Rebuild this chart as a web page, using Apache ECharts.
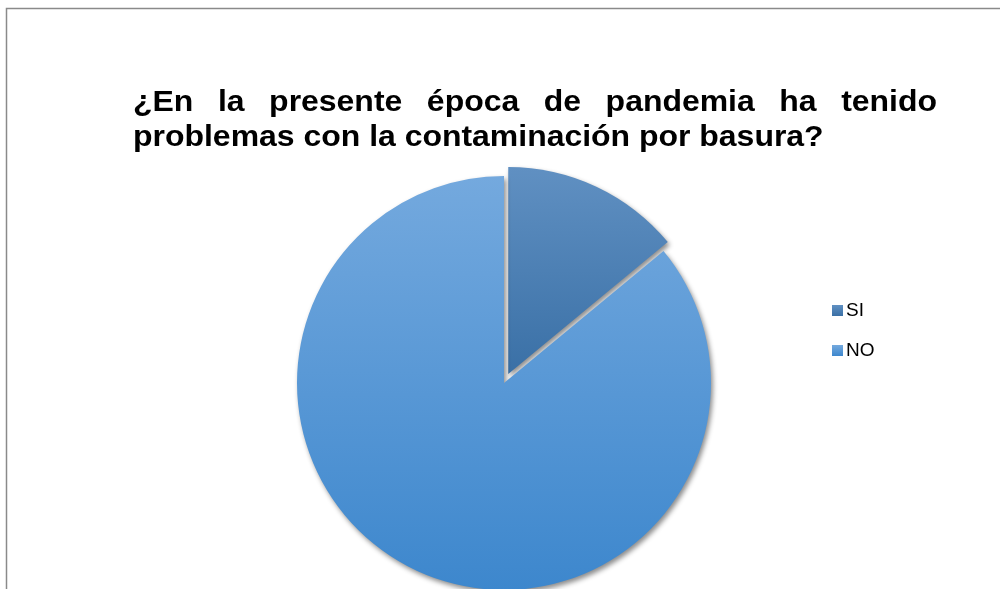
<!DOCTYPE html>
<html>
<head>
<meta charset="utf-8">
<script src="https://cdn.jsdelivr.net/npm/echarts@6/dist/echarts.min.js"></script>
<style>
	html, body { margin: 0; padding: 0; background: #fff; }
	#chart { width: 1000px; height: 589px; }
</style>
</head>
<body>
<div id="chart"></div>
<script>
const categories = ['SI', 'NO'];
const values = [14, 86];
const titleLines = [
	'¿En la presente época de pandemia ha tenido',
	'problemas con la contaminación por basura?'
];

const fontFamily = '"Liberation Sans", Arial, sans-serif';
const titleFont = 'bold 30px ' + fontFamily;

const chart = echarts.init(document.querySelector('#chart'));

// the title in the picture is a little stretched sideways
const stretch = 1.065;
// first title line is justified between these x positions
const lineLeft = 133;
const lineRight = 937;

const ctx = document.createElement('canvas').getContext('2d');
ctx.font = titleFont;

const words = titleLines[0].split(' ');
const widths = words.map(w => ctx.measureText(w).width);
const innerWidth = (lineRight - lineLeft) / stretch;
const gap = (innerWidth - widths.reduce((a, b) => a + b, 0)) / (words.length - 1);

const titleChildren = [];
let x = 0;
words.forEach((w, i) => {
	titleChildren.push({
		type: 'text',
		style: {
			x,
			y: 0,
			text: w,
			font: titleFont,
			fill: '#000',
			verticalAlign: 'top'
		}
	});
	x += widths[i] + gap;
});

titleChildren.push({
	type: 'text',
	style: {
		x: 0,
		y: 35,
		text: titleLines[1],
		font: titleFont,
		fill: '#000',
		verticalAlign: 'top'
	}
});

const sliceColors = [
	{ top: '#6090c2', bottom: '#3a70a6' },
	{ top: '#74a9de', bottom: '#3d87cd' }
];

const option = {
	animation: false,
	backgroundColor: '#ffffff',

	legend: {
		orient: 'vertical',
		left: 832,
		top: 301,
		padding: 0,
		itemWidth: 11,
		itemHeight: 11,
		itemGap: 21,
		icon: 'rect',
		selectedMode: false,
		textStyle: {
			fontFamily: fontFamily,
			fontSize: 19,
			color: '#000',
			padding: [0, 0, 0, -2]
		},
		data: categories
	},

	graphic: [
		{
			type: 'rect',
			shape: { x: 6.5, y: 8.5, width: 1100, height: 700 },
			style: { fill: 'none', stroke: '#8a8a8a', lineWidth: 1.5 },
			silent: true
		},
		{
			type: 'group',
			x: lineLeft,
			y: 88,
			scaleX: stretch,
			children: titleChildren
		}
	],

	series: [
		{
			type: 'pie',
			center: [504, 383],
			radius: [0, 207],
			startAngle: 90,
			clockwise: true,
			selectedMode: 'single',
			selectedOffset: 10,
			label: { show: false },
			labelLine: { show: false },
			emphasis: { disabled: true },
			itemStyle: {
				borderWidth: 0,
				shadowColor: 'rgba(0, 0, 0, 0.45)',
				shadowBlur: 5,
				shadowOffsetX: 2,
				shadowOffsetY: 3
			},
			data: categories.map((name, i) => ({
				name,
				value: values[i],
				selected: i === 0,
				itemStyle: {
					color: {
						type: 'linear',
						x: 0, y: 0, x2: 0, y2: 1,
						colorStops: [
							{ offset: 0, color: sliceColors[i].top },
							{ offset: 1, color: sliceColors[i].bottom }
						]
					}
				}
			}))
		}
	]
};

chart.setOption(option);
</script>
</body>
</html>
